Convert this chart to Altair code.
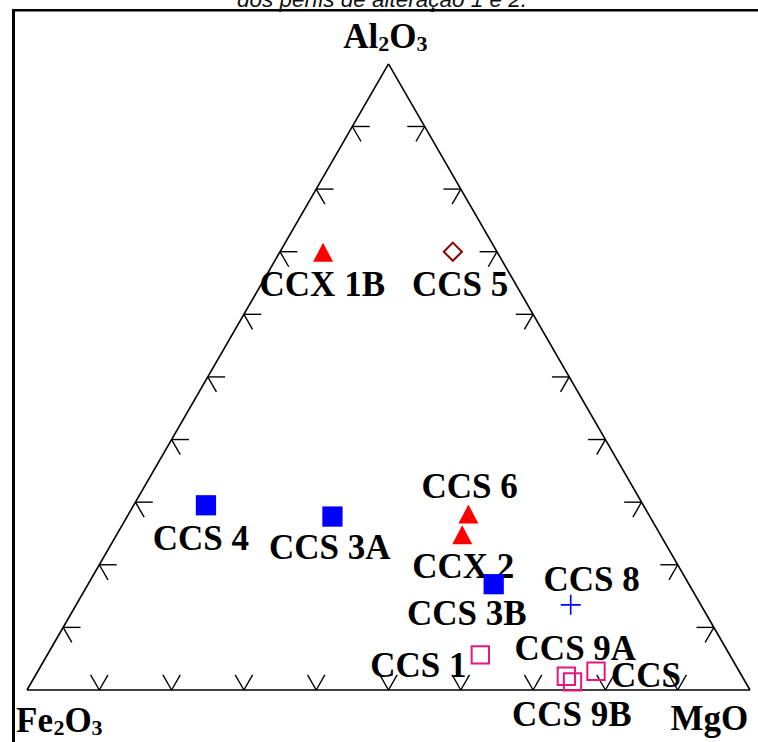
import altair as alt
import numpy as np
import pandas as pd

# --- sample compositions (Al2O3 / Fe2O3 / MgO, normalised to 100 %) ---
samples = ["CCX 1B", "CCS 5", "CCS 6", "CCX 2", "CCS 3B", "CCS 8",
           "CCS 4", "CCS 3A", "CCS 1", "CCS 9A", "CCS 9B", "CCS"]
al2o3 = [69.9, 70.0, 28.1, 24.8, 16.9, 13.6, 29.5, 27.7, 5.6, 2.2, 1.3, 3.0]
fe2o3 = [24.1, 6.1, 24.9, 27.4, 27.0, 18.0, 60.5, 43.9, 34.5, 24.3, 23.9, 19.8]
mgo = [6.0, 23.9, 47.0, 47.8, 56.1, 68.4, 10.0, 28.4, 59.9, 73.5, 74.8, 77.2]
groups = ["A", "B", "A", "A", "C", "D", "C", "C", "E", "E", "E", "E"]

# tick fractions along each side of the triangle
tick_fracs = [0.1, 0.2, 0.3, 0.4, 0.5, 0.6, 0.7, 0.8, 0.9]

title_text = "dos perfis de alteração 1 e 2."

# --- ternary -> cartesian (Fe2O3 left, MgO right, Al2O3 apex) ---
H = np.sqrt(3) / 2
df = pd.DataFrame({"sample": samples, "group": groups,
                   "Al2O3": al2o3, "Fe2O3": fe2o3, "MgO": mgo})
tot = df[["Al2O3", "Fe2O3", "MgO"]].sum(axis=1)
df["x"] = (df["MgO"] + df["Al2O3"] / 2) / tot
df["y"] = df["Al2O3"] / tot * H

# canvas: 758 x 742 px, one ternary unit = 723 px, Fe2O3 corner at (27, 690)
U, X0, Y0, W, HT = 723.0, 27.0, 690.0, 758, 742
xs = alt.Scale(domain=[-X0 / U, (W - X0) / U], nice=False, zero=False)
ys = alt.Scale(domain=[-(HT - Y0) / U, Y0 / U], nice=False, zero=False)

SERIF = "Liberation Serif"

# triangle sides
verts = {"Fe": (0.0, 0.0), "Mg": (1.0, 0.0), "Al": (0.5, H)}
edges = pd.DataFrame([
    {"x": 0.0, "y": 0.0, "x2": 1.0, "y2": 0.0},
    {"x": 0.0, "y": 0.0, "x2": 0.5, "y2": H},
    {"x": 1.0, "y": 0.0, "x2": 0.5, "y2": H},
])

# arrow-like ticks: two short strokes parallel to the other sides
L = 0.024
rows = []
for t in tick_fracs:
    # bottom side
    px, py = t, 0.0
    for ax, ay in [(-0.5, H), (0.5, H)]:
        rows.append({"x": px, "y": py, "x2": px + L * ax, "y2": py + L * ay})
    # left side
    px, py = 0.5 * t, H * t
    for ax, ay in [(1.0, 0.0), (0.5, -H)]:
        rows.append({"x": px, "y": py, "x2": px + L * ax, "y2": py + L * ay})
    # right side
    px, py = 1.0 - 0.5 * t, H * t
    for ax, ay in [(-1.0, 0.0), (-0.5, -H)]:
        rows.append({"x": px, "y": py, "x2": px + L * ax, "y2": py + L * ay})
ticks = pd.DataFrame(rows)


def seg_layer(data, width=1.5):
    return alt.Chart(data).mark_rule(color="black", strokeWidth=width).encode(
        x=alt.X("x:Q", scale=xs, axis=None),
        y=alt.Y("y:Q", scale=ys, axis=None),
        x2="x2:Q", y2="y2:Q")


def at(xv, yv):
    return alt.Chart(pd.DataFrame({"x": [xv], "y": [yv]}))


def pos():
    return dict(x=alt.X("x:Q", scale=xs, axis=None),
                y=alt.Y("y:Q", scale=ys, axis=None))


layers = []

# outer frame
one = pd.DataFrame({"a": [0]})
layers.append(alt.Chart(one).mark_rule(color="black", strokeWidth=3).encode(
    x=alt.value(13.5), y=alt.value(10), y2=alt.value(HT)))
layers.append(alt.Chart(one).mark_rule(color="black", strokeWidth=2.6).encode(
    x=alt.value(12), x2=alt.value(W), y=alt.value(10.3)))
layers.append(alt.Chart(one).mark_text(
    text=title_text, font="Liberation Sans", fontStyle="italic", fontSize=22.5,
    align="center", baseline="alphabetic", color="#111111").encode(
    x=alt.value(382), y=alt.value(6.5)))

layers.append(seg_layer(edges, 1.6))
layers.append(seg_layer(ticks, 1.4))

# corner labels with subscripts: (text, size, dx, dy)
corner_parts = {
    "Al": [("Al", 35, -45.2, -16), ("2", 22, -10.2, -12.5),
           ("O", 35, 0.8, -16), ("3", 22, 28.0, -12.5)],
    "Fe": [("Fe", 35, -11, 41.5), ("2", 22, 26.5, 44.5),
           ("O", 35, 37.5, 41.5), ("3", 22, 64.5, 44.5)],
    "Mg": [("MgO", 35, -79.5, 40)],
}
for key, parts in corner_parts.items():
    vx, vy = verts[key]
    for txt, fs, dx, dy in parts:
        layers.append(at(vx, vy).mark_text(
            text=txt, font=SERIF, fontWeight="bold", fontSize=fs,
            align="left", baseline="alphabetic", dx=dx, dy=dy,
            color="black").encode(**pos()))

# sample labels: pixel offsets (dx, dy) of the label baseline centre
label_offsets = {
    "CCX 1B": (-0.8, 43.8), "CCS 5": (7.3, 43.8), "CCS 6": (1.3, -16.5),
    "CCX 2": (1.0, 43.0), "CCS 3B": (-27.0, 41.2), "CCS 8": (21.0, -13.5),
    "CCS 4": (-5.0, 45.0), "CCS 3A": (-2.7, 42.8), "CCS 1": (-62.0, 21.8),
    "CCS 9A": (9.0, -16.5), "CCS 9B": (-0.7, 43.8), "CCS": (50.0, 15.5),
}
for s, (dx, dy) in label_offsets.items():
    layers.append(alt.Chart(df).transform_filter(
        alt.datum.sample == s).mark_text(
        font=SERIF, fontWeight="bold", fontSize=35, align="center",
        baseline="alphabetic", dx=dx, dy=dy, color="black").encode(
        text="sample:N", **pos()))

# marker style per group
styles = {
    "A": dict(shape="M0,-0.95L1,0.95L-1,0.95Z", filled=True, color="#FF0000",
              size=400, strokeWidth=0),
    "B": dict(shape="diamond", filled=False, color="#8B0000", size=330,
              strokeWidth=2),
    "C": dict(shape="square", filled=True, color="#0000FF", size=410,
              strokeWidth=0),
    "D": dict(shape="M-1,0L1,0M0,-1L0,1", filled=False, color="#0000FF",
              size=400, strokeWidth=1.6),
    "E": dict(shape="square", filled=False, color="#E8177F", size=300,
              strokeWidth=2),
}
for g, st in styles.items():
    layers.append(alt.Chart(df).transform_filter(
        alt.datum.group == g).mark_point(opacity=1, **st).encode(**pos()))

chart = alt.layer(*layers).properties(
    width=W, height=HT,
    autosize=alt.AutoSizeParams(type="none"),
    padding=0,
    background="white",
).configure_view(stroke=None)

chart.save("out.html", embed_options={"renderer": "svg", "actions": False})
